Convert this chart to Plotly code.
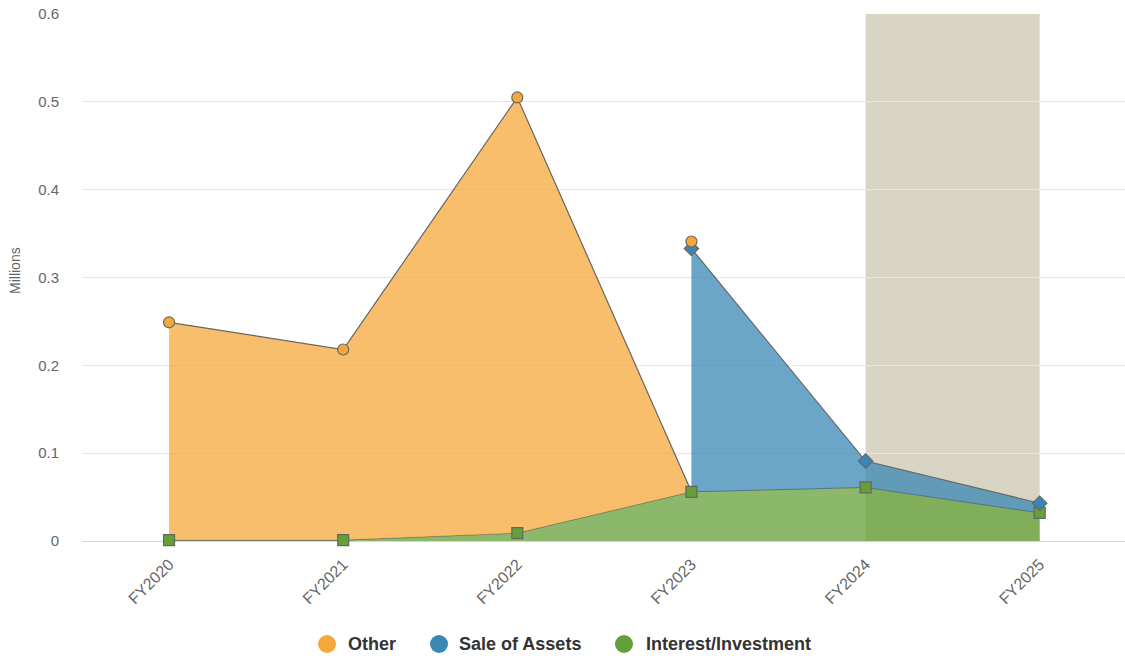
import plotly.graph_objects as go

categories = ["FY2020", "FY2021", "FY2022", "FY2023", "FY2024", "FY2025"]
# stacked totals as shown
other_total = [0.249, 0.218, 0.505, 0.341, None, None]
sale_total = [None, None, None, 0.333, 0.091, 0.043]
interest = [0.001, 0.001, 0.009, 0.056, 0.061, 0.032]
y_ticks = [0, 0.1, 0.2, 0.3, 0.4, 0.5, 0.6]
band_range = ["FY2024", "FY2025"]
series_names = ["Other", "Sale of Assets", "Interest/Investment"]
y_title = "Millions"

C_ORANGE = "#f5a83a"
C_BLUE = "#3a87b4"
C_GREEN = "#64a038"
F_ORANGE = "rgba(245,168,58,0.75)"
F_BLUE = "rgba(58,135,180,0.75)"
F_GREEN = "rgba(100,160,56,0.75)"
LINE = "#666666"
FONT = "Liberation Sans, Arial, Helvetica, sans-serif"

W, H = 1125, 656
ML, MR, MT, MB = 82, 0, 14, 115
PW, PH = W - ML - MR, H - MT - MB

xs = list(range(len(categories)))
fig = go.Figure()

# Interest area (bottom)
fig.add_trace(go.Scatter(x=xs, y=interest, mode="lines", fill="tozeroy",
                         fillcolor=F_GREEN, line=dict(color=LINE, width=1),
                         showlegend=False, hoverinfo="skip"))

# Other area: FY2020..FY2023, drops to the interest level at FY2023
oi = [i for i, v in enumerate(other_total) if v is not None]
other_top = [other_total[i] for i in oi[:-1]] + [interest[oi[-1]]]
poly_x = oi + oi[::-1]
poly_y = other_top + [interest[i] for i in oi[::-1]]
fig.add_trace(go.Scatter(x=poly_x, y=poly_y, mode="lines", fill="toself",
                         fillcolor=F_ORANGE, line=dict(width=0),
                         showlegend=False, hoverinfo="skip"))
fig.add_trace(go.Scatter(x=oi, y=other_top, mode="lines",
                         line=dict(color=LINE, width=1.2),
                         showlegend=False, hoverinfo="skip"))

# Sale of Assets area
si = [i for i, v in enumerate(sale_total) if v is not None]
s_top = [sale_total[i] for i in si]
fig.add_trace(go.Scatter(x=si + si[::-1], y=s_top + [interest[i] for i in si[::-1]],
                         mode="lines", fill="toself", fillcolor=F_BLUE,
                         line=dict(width=0), showlegend=False, hoverinfo="skip"))
fig.add_trace(go.Scatter(x=si, y=s_top, mode="lines",
                         line=dict(color=LINE, width=1.2),
                         showlegend=False, hoverinfo="skip"))

# Markers
fig.add_trace(go.Scatter(x=xs, y=interest, mode="markers", cliponaxis=False,
                         marker=dict(symbol="square", size=11, color=C_GREEN,
                                     line=dict(color=LINE, width=1.2)),
                         showlegend=False, hoverinfo="skip"))
fig.add_trace(go.Scatter(x=si, y=s_top, mode="markers", cliponaxis=False,
                         marker=dict(symbol="diamond", size=11, color=C_BLUE,
                                     line=dict(color=LINE, width=1.2)),
                         showlegend=False, hoverinfo="skip"))
fig.add_trace(go.Scatter(x=oi, y=[other_total[i] for i in oi], mode="markers",
                         cliponaxis=False,
                         marker=dict(symbol="circle", size=11, color=C_ORANGE,
                                     line=dict(color=LINE, width=1.2)),
                         showlegend=False, hoverinfo="skip"))

fig.add_shape(type="rect", xref="x", yref="y",
              x0=categories.index(band_range[0]), x1=categories.index(band_range[1]),
              y0=0, y1=0.6, fillcolor="#d8d5c4", line=dict(width=0), layer="below")

# pixel -> paper coords
def px(x):
    return (x - ML) / PW

def py(y):
    return (H - MB - y) / PH

# y-axis title
fig.add_annotation(xref="paper", yref="paper", x=px(15), y=py(271),
                   xanchor="center", yanchor="middle", showarrow=False,
                   text=y_title, textangle=-90,
                   font=dict(size=14, color="#666666", family=FONT))

# Manual legend
leg_y = 644
leg_items = [(series_names[0], C_ORANGE, 327, 346),
             (series_names[1], C_BLUE, 439, 457),
             (series_names[2], C_GREEN, 624, 644)]
for name, col, cx, tx in leg_items:
    fig.add_shape(type="circle", xref="paper", yref="paper",
                  x0=px(cx - 9), x1=px(cx + 9), y0=py(leg_y + 9), y1=py(leg_y - 9),
                  fillcolor=col, line=dict(width=0))
    fig.add_annotation(xref="paper", yref="paper", x=px(tx), y=py(leg_y),
                       xanchor="left", yanchor="middle", showarrow=False,
                       text=f"<b>{name}</b>",
                       font=dict(size=18, color="#333333", family=FONT))

fig.update_layout(
    width=W, height=H,
    margin=dict(l=ML, r=MR, t=MT, b=MB, autoexpand=False),
    paper_bgcolor="white", plot_bgcolor="white",
    font=dict(family=FONT, size=15, color="#666666"),
    showlegend=False,
    xaxis=dict(range=[-0.5, 5.49], tickvals=xs, ticktext=categories, tickangle=-45,
               showgrid=False, zeroline=False, showline=False, automargin=False,
               tickfont=dict(size=16, color="#666666"), ticks="", ticklen=0,
               ticklabelstandoff=10),
    yaxis=dict(range=[0, 0.6], tickvals=y_ticks,
               ticktext=["0" if v == 0 else f"{v:g}" for v in y_ticks],
               showgrid=True, gridcolor="#e6e6e6", gridwidth=1,
               zeroline=True, zerolinecolor="#ccd6eb", zerolinewidth=1,
               showline=False, automargin=False,
               tickfont=dict(size=15, color="#666666"),
               ticklabelstandoff=22),
    hovermode=False,
)

fig.write_html("out.html", config={"displayModeBar": False},
               post_script="document.body.style.margin='0';document.body.style.overflow='hidden';")
